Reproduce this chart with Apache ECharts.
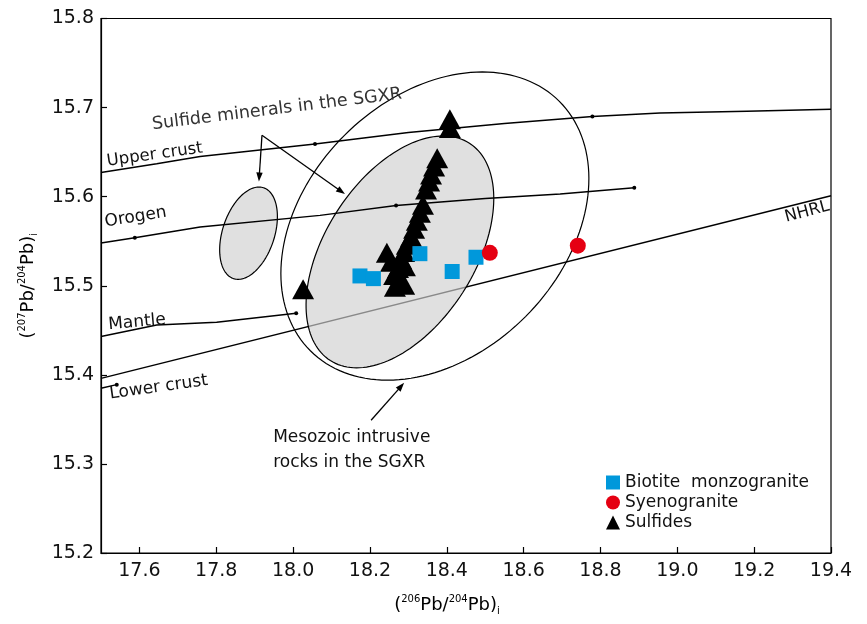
<!DOCTYPE html>
<html>
<head>
<meta charset="utf-8">
<script src="https://cdn.jsdelivr.net/npm/echarts@6/dist/echarts.min.js"></script>
<style>
  html, body { margin: 0; padding: 0; background: #fff; }
  #chart { width: 867px; height: 624px; }
</style>
</head>
<body>
<div id="chart"></div>
<script>
// Tick values
const xTicks = [17.6, 17.8, 18.0, 18.2, 18.4, 18.6, 18.8, 19.0, 19.2, 19.4];
const yTicks = [15.2, 15.3, 15.4, 15.5, 15.6, 15.7, 15.8];

// Samples: [206Pb/204Pb, 207Pb/204Pb]
const biotiteMonzogranite = [
  [18.174, 15.511], [18.209, 15.508], [18.330, 15.536], [18.414, 15.516], [18.476, 15.532]
];
const syenogranite = [
  [18.512, 15.537], [18.741, 15.545]
];
const sulfides = [
  [18.026, 15.496], [18.408, 15.687], [18.408, 15.677], [18.375, 15.643],
  [18.367, 15.634], [18.359, 15.625], [18.354, 15.617], [18.346, 15.608],
  [18.338, 15.591], [18.330, 15.582], [18.322, 15.573], [18.315, 15.564],
  [18.307, 15.555], [18.296, 15.546], [18.289, 15.538], [18.281, 15.530],
  [18.244, 15.537], [18.255, 15.527], [18.273, 15.520], [18.263, 15.512],
  [18.276, 15.505], [18.265, 15.499], [18.289, 15.501], [18.291, 15.522]
];

// Plumbotectonic evolution curves and their time marks
const upperCrust = [
  [17.50, 15.627], [17.645, 15.637], [17.758, 15.645], [18.057, 15.659],
  [18.30, 15.672], [18.55, 15.682], [18.779, 15.690], [18.955, 15.694],
  [19.181, 15.696], [19.40, 15.698]
];
const upperCrustMarks = [[18.057, 15.659], [18.779, 15.690]];
const orogen = [
  [17.50, 15.548], [17.588, 15.554], [17.758, 15.566], [18.070, 15.579],
  [18.268, 15.590], [18.50, 15.598], [18.695, 15.603], [18.888, 15.610]
];
const orogenMarks = [[17.588, 15.554], [18.268, 15.590], [18.888, 15.610]];
const mantle = [
  [17.50, 15.443], [17.645, 15.456], [17.801, 15.459], [18.008, 15.469]
];
const mantleMarks = [[18.008, 15.469]];
const lowerCrust = [[17.50, 15.385], [17.541, 15.389]];
const lowerCrustMarks = [[17.541, 15.389]];
const nhrl = [[17.50, 15.396], [19.40, 15.601]];

// Fields: [centre x, centre y, major-axis end x, major-axis end y, minor/major ratio]
const sulfideField = [[18.369, 15.567, 18.693, 15.707, 0.727]];
const intrusiveField = [[18.278, 15.538, 18.459, 15.660, 0.58]];
const sulfideSmallField = [[17.884, 15.559, 17.923, 15.610, 0.543]];

const chart = echarts.init(document.getElementById('chart'));
const FONT = '"DejaVu Sans", "Liberation Sans", Arial, sans-serif';

function ellipseRenderer(fill) {
  return function (params, api) {
    const c = api.coord([api.value(0), api.value(1)]);
    const e = api.coord([api.value(2), api.value(3)]);
    const dx = e[0] - c[0], dy = e[1] - c[1];
    const a = Math.hypot(dx, dy);
    const b = a * api.value(4);
    const ux = dx / a, uy = dy / a;
    const vx = -uy, vy = ux;
    const pts = [];
    const n = 160;
    for (let i = 0; i < n; i++) {
      const t = (i / n) * Math.PI * 2;
      const ca = Math.cos(t) * a, sb = Math.sin(t) * b;
      pts.push([c[0] + ca * ux + sb * vx, c[1] + ca * uy + sb * vy]);
    }
    return {
      type: 'polygon',
      shape: { points: pts },
      style: { fill: fill, stroke: '#000', lineWidth: 1.2 }
    };
  };
}

function curve(name, data, z) {
  return {
    name: name, type: 'line', data: data, showSymbol: false, symbol: 'none',
    lineStyle: { color: '#000', width: 1.5 }, z: z, silent: true, animation: false
  };
}
function marks(name, data) {
  return {
    name: name, type: 'scatter', data: data, symbol: 'circle', symbolSize: 4,
    itemStyle: { color: '#000', opacity: 1 }, z: 4, silent: true, animation: false
  };
}

const supStyle = { fontSize: 10, fontFamily: FONT, color: '#000', verticalAlign: 'top', lineHeight: 22 };
const subStyle = { fontSize: 10, fontFamily: FONT, color: '#000', verticalAlign: 'bottom', lineHeight: 22 };
const mainStyle = { fontSize: 18, fontFamily: FONT, color: '#000', lineHeight: 22 };

chart.setOption({
  animation: false,
  backgroundColor: '#fff',
  grid: { left: 101, right: 36, top: 18.5, bottom: 71, show: true, borderColor: '#000', borderWidth: 1.2, containLabel: false },
  xAxis: {
    type: 'value', min: 17.5, max: 19.4,
    axisLine: { show: true, lineStyle: { color: '#000', width: 1.2 } },
    axisTick: { show: true, inside: true, length: 6, customValues: xTicks, lineStyle: { color: '#000', width: 1.2 } },
    axisLabel: { customValues: xTicks, formatter: v => v.toFixed(1), fontSize: 19, fontFamily: FONT, color: '#111', margin: 9 },
    splitLine: { show: false },
    name: '{m|(}{s|206}{m|Pb/}{s|204}{m|Pb)}{b|i}',
    nameLocation: 'middle', nameGap: 41,
    nameTextStyle: { rich: { m: mainStyle, s: supStyle, b: subStyle }, padding: [0, 38, 0, 0] }
  },
  yAxis: {
    type: 'value', min: 15.2, max: 15.8,
    axisLine: { show: true, lineStyle: { color: '#000', width: 1.2 } },
    axisTick: { show: true, inside: true, length: 6, customValues: yTicks, lineStyle: { color: '#000', width: 1.2 } },
    axisLabel: { customValues: yTicks, formatter: v => v.toFixed(1), fontSize: 19, fontFamily: FONT, color: '#111', margin: 7 },
    splitLine: { show: false },
    name: '{m|(}{s|207}{m|Pb/}{s|204}{m|Pb)}{b|i}',
    nameLocation: 'middle', nameGap: 62, nameRotate: 90,
    nameTextStyle: { rich: { m: mainStyle, s: supStyle, b: subStyle } }
  },
  legend: {
    orient: 'vertical', left: 606, top: 474, padding: 0, itemWidth: 14, itemHeight: 14, itemGap: 3,
    textStyle: { fontSize: 17, fontFamily: FONT, color: '#111', lineHeight: 14 },
    data: [
      { name: 'Biotite  monzogranite', icon: 'rect' },
      { name: 'Syenogranite', icon: 'circle' },
      { name: 'Sulfides', icon: 'triangle' }
    ]
  },
  series: [
    curve('NHRL', nhrl, 1),
    {
      name: 'Mesozoic field', type: 'custom', data: intrusiveField, z: 2, silent: true, clip: false,
      renderItem: ellipseRenderer('rgba(208,208,208,0.66)')
    },
    {
      name: 'Sulfide small field', type: 'custom', data: sulfideSmallField, z: 2, silent: true, clip: false,
      renderItem: ellipseRenderer('rgba(208,208,208,0.66)')
    },
    {
      name: 'Sulfide field', type: 'custom', data: sulfideField, z: 3, silent: true, clip: false,
      renderItem: ellipseRenderer('none')
    },
    curve('Upper crust', upperCrust, 3),
    curve('Orogen', orogen, 3),
    curve('Mantle', mantle, 3),
    curve('Lower crust', lowerCrust, 3),
    marks('Upper crust marks', upperCrustMarks),
    marks('Orogen marks', orogenMarks),
    marks('Mantle marks', mantleMarks),
    marks('Lower crust marks', lowerCrustMarks),
    {
      name: 'Sulfides', type: 'scatter', data: sulfides, symbol: 'triangle', symbolSize: [22, 20],
      itemStyle: { color: '#000', opacity: 1 }, z: 5
    },
    {
      name: 'Biotite  monzogranite', type: 'scatter', data: biotiteMonzogranite, symbol: 'rect', symbolSize: 15,
      itemStyle: { color: '#0098db', opacity: 1 }, z: 6
    },
    {
      name: 'Syenogranite', type: 'scatter', data: syenogranite, symbol: 'circle', symbolSize: 16,
      itemStyle: { color: '#e50012', opacity: 1 }, z: 6
    }
  ]
});

// Annotations anchored in data space
const labels = [
  { text: 'Sulfide minerals in the SGXR', at: [17.958, 15.698], rot: 7, size: 17.5, color: '#333' },
  { text: 'Upper crust', at: [17.640, 15.647], rot: 8, size: 16.5, color: '#111' },
  { text: 'Orogen', at: [17.590, 15.577], rot: 9, size: 17, color: '#111' },
  { text: 'Mantle', at: [17.594, 15.459], rot: 5, size: 17, color: '#111' },
  { text: 'Lower crust', at: [17.650, 15.386], rot: 8, size: 17, color: '#111' },
  { text: 'NHRL', at: [19.338, 15.583], rot: 15, size: 16.5, color: '#111' },
  { text: 'Mesozoic intrusive', at: [17.948, 15.330], rot: 0, size: 17, color: '#111', left: true },
  { text: 'rocks in the SGXR', at: [17.948, 15.302], rot: 0, size: 17, color: '#111', left: true }
];
const arrows = [
  { from: [17.919, 15.669], to: [17.911, 15.617] },
  { from: [17.919, 15.669], to: [18.135, 15.603] },
  { from: [18.203, 15.349], to: [18.289, 15.391] }
];

const px = p => chart.convertToPixel({ gridIndex: 0 }, p);
const graphics = [];
labels.forEach(l => {
  const p = px(l.at);
  graphics.push({
    type: 'text', x: p[0], y: p[1], rotation: l.rot * Math.PI / 180, silent: true, z: 10,
    style: {
      text: l.text, x: 0, y: 0, fill: l.color,
      font: l.size + 'px ' + FONT,
      textAlign: l.left ? 'left' : 'center', textVerticalAlign: 'middle'
    }
  });
});
arrows.forEach(a => {
  const p0 = px(a.from), p1 = px(a.to);
  const dx = p1[0] - p0[0], dy = p1[1] - p0[1];
  const len = Math.hypot(dx, dy);
  const ux = dx / len, uy = dy / len;
  const hl = 9, hw = 3.2;
  const bx = p1[0] - ux * hl, by = p1[1] - uy * hl;
  graphics.push({
    type: 'line', silent: true, z: 10,
    shape: { x1: p0[0], y1: p0[1], x2: bx + ux * 2, y2: by + uy * 2 },
    style: { stroke: '#000', lineWidth: 1.3 }
  });
  graphics.push({
    type: 'polygon', silent: true, z: 10,
    shape: { points: [[p1[0], p1[1]], [bx - uy * hw, by + ux * hw], [bx + uy * hw, by - ux * hw]] },
    style: { fill: '#000' }
  });
});
chart.setOption({ graphic: graphics });
</script>
</body>
</html>
